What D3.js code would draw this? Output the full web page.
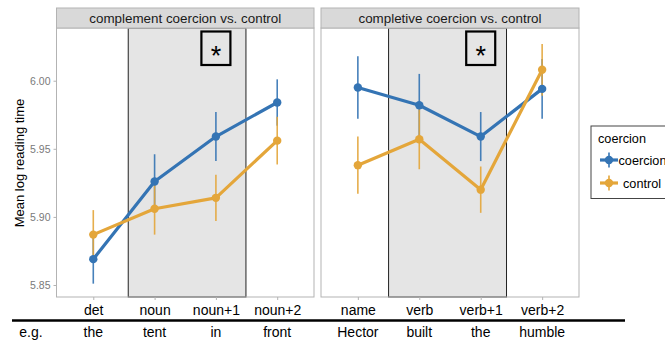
<!DOCTYPE html>
<html>
<head>
<meta charset="utf-8">
<script src="https://cdn.jsdelivr.net/npm/d3@7"></script>
<style>
  html, body { margin: 0; padding: 0; background: #fff; }
  svg { display: block; font-family: "Liberation Sans", Arial, Helvetica, sans-serif; }
</style>
</head>
<body>
<svg id="chart" width="665" height="341"></svg>
<script>
// ---- data ----
const panelTitles = ["complement coercion vs. control", "completive coercion vs. control"];
const regionsLeft = ["det", "noun", "noun+1", "noun+2"];
const regionsRight = ["name", "verb", "verb+1", "verb+2"];
const examplesLeft = ["the", "tent", "in", "front"];
const examplesRight = ["Hector", "built", "the", "humble"];
const seriesNames = ["coercion", "control"];
// mean log reading time, per panel
const coercionLeft = [5.869, 5.926, 5.959, 5.984];
const coercionLeftSE = [0.018, 0.020, 0.018, 0.017];
const controlLeft = [5.887, 5.906, 5.914, 5.956];
const controlLeftSE = [0.018, 0.019, 0.017, 0.0175];
const coercionRight = [5.995, 5.982, 5.959, 5.994];
const coercionRightSE = [0.023, 0.023, 0.018, 0.022];
const controlRight = [5.938, 5.957, 5.920, 6.008];
const controlRightSE = [0.021, 0.022, 0.017, 0.019];
const yTicks = [5.85, 5.90, 5.95, 6.00];
const shadeLeft = [0.57, 2.49];   // critical region span (category index units)
const shadeRight = [0.50, 2.42];
const starLabel = "*";
const exampleLabel = "e.g.";
const yTitle = "Mean log reading time";
const legendTitle = "coercion";

const colors = { coercion: "#3474b4", control: "#e4a63a" };

const svg = d3.select("#chart");

const panelTop = 28, panelBottom = 297;
const y = d3.scaleLinear().domain([5.8412, 6.0387]).range([panelBottom, panelTop]);

const panels = [
  { x0: 56.5, x1: 314, title: panelTitles[0], cats: regionsLeft, ex: examplesLeft,
    series: { coercion: [coercionLeft, coercionLeftSE], control: [controlLeft, controlLeftSE] },
    shade: shadeLeft },
  { x0: 321, x1: 579, title: panelTitles[1], cats: regionsRight, ex: examplesRight,
    series: { coercion: [coercionRight, coercionRightSE], control: [controlRight, controlRightSE] },
    shade: shadeRight }
];

panels.forEach((p, pi) => {
  const x = d3.scalePoint().domain(p.cats).range([p.x0, p.x1]).padding(0.6);
  const step = x.step();
  const xi = i => x(p.cats[0]) + i * step;
  const g = svg.append("g");

  g.append("rect").attr("x", p.x0).attr("y", panelTop).attr("width", p.x1 - p.x0).attr("height", panelBottom - panelTop)
    .attr("fill", "#fff");
  g.append("rect").attr("x", xi(p.shade[0])).attr("y", panelTop)
    .attr("width", xi(p.shade[1]) - xi(p.shade[0])).attr("height", panelBottom - panelTop)
    .attr("fill", "#e5e5e5").attr("stroke", "#222").attr("stroke-width", 1);
  const sc = x(p.cats[2]);
  g.append("rect").attr("x", sc - 14.5).attr("y", 31.5).attr("width", 29).attr("height", 33.5)
    .attr("fill", "none").attr("stroke", "#000").attr("stroke-width", 2.2);
  g.append("text").attr("x", sc).attr("y", 65).attr("text-anchor", "middle")
    .attr("font-size", 27).attr("fill", "#000").text(starLabel);

  g.append("rect").attr("x", p.x0).attr("y", panelTop).attr("width", p.x1 - p.x0).attr("height", panelBottom - panelTop)
    .attr("fill", "none").attr("stroke", "#b3b3b3").attr("stroke-width", 1);

  g.append("rect").attr("x", p.x0).attr("y", 8).attr("width", p.x1 - p.x0).attr("height", 20)
    .attr("fill", "#d9d9d9").attr("stroke", "#b3b3b3").attr("stroke-width", 1);
  g.append("text").attr("x", (p.x0 + p.x1) / 2).attr("y", 22.5).attr("text-anchor", "middle")
    .attr("font-size", 13.4).attr("fill", "#1a1a1a").text(p.title);

  const xAxis = d3.axisBottom(x).tickSize(3).tickPadding(4);
  const ax = g.append("g").attr("transform", `translate(0,${panelBottom})`).call(xAxis);
  ax.select(".domain").remove();
  ax.selectAll(".tick line").attr("stroke", "#b3b3b3");
  ax.selectAll(".tick text").attr("font-size", 14).attr("fill", "#000")
    .attr("font-family", "'Liberation Sans', Arial, sans-serif").attr("dy", null).attr("y", 18);

  g.selectAll("text.ex").data(p.ex).enter().append("text").attr("class", "ex")
    .attr("x", (d, i) => x(p.cats[i])).attr("y", 337).attr("text-anchor", "middle")
    .attr("font-size", 14).attr("fill", "#000").text(d => d);

  const layers = seriesNames.map(s => ({ name: s, vals: p.series[s][0], se: p.series[s][1] }));
  layers.forEach(L => {
    g.selectAll(null).data(L.vals).enter().append("line")
      .attr("x1", (d, i) => x(p.cats[i])).attr("x2", (d, i) => x(p.cats[i]))
      .attr("y1", (d, i) => y(d - L.se[i])).attr("y2", (d, i) => y(d + L.se[i]))
      .attr("stroke", colors[L.name]).attr("stroke-width", 1.6).attr("opacity", 0.9);
  });
  layers.forEach(L => {
    const line = d3.line().x((d, i) => x(p.cats[i])).y(d => y(d));
    g.append("path").datum(L.vals).attr("d", line).attr("fill", "none")
      .attr("stroke", colors[L.name]).attr("stroke-width", 3.2).attr("stroke-linejoin", "round");
  });
  layers.forEach(L => {
    g.selectAll(null).data(L.vals).enter().append("circle")
      .attr("cx", (d, i) => x(p.cats[i])).attr("cy", d => y(d)).attr("r", 4.2)
      .attr("fill", colors[L.name]);
  });

  if (pi === 0) {
    const yAxis = d3.axisLeft(y).tickValues(yTicks).tickFormat(d3.format(".2f")).tickSize(3).tickPadding(3);
    const ay = g.append("g").attr("transform", `translate(${p.x0},0)`).call(yAxis);
    ay.select(".domain").remove();
    ay.selectAll(".tick line").attr("stroke", "#b3b3b3");
    ay.selectAll(".tick text").attr("font-size", 10.5).attr("fill", "#7a7a7a")
      .attr("font-family", "'Liberation Sans', Arial, sans-serif");
  }
});

svg.append("text").attr("transform", "translate(24,163) rotate(-90)").attr("text-anchor", "middle")
  .attr("font-size", 13).attr("fill", "#000").text(yTitle);

svg.append("line").attr("x1", 12).attr("x2", 625).attr("y1", 320.5).attr("y2", 320.5)
  .attr("stroke", "#000").attr("stroke-width", 2.5);
svg.append("text").attr("x", 31).attr("y", 337).attr("text-anchor", "middle")
  .attr("font-size", 14).attr("fill", "#000").text(exampleLabel);

const lg = svg.append("g");
lg.append("rect").attr("x", 591).attr("y", 126).attr("width", 100).attr("height", 72.5)
  .attr("fill", "#fff").attr("stroke", "#444").attr("stroke-width", 1);
lg.append("text").attr("x", 598).attr("y", 143).attr("font-size", 12.7).attr("fill", "#000").text(legendTitle);
seriesNames.forEach((s, i) => {
  const cy = 160 + i * 23, cx = 609;
  lg.append("line").attr("x1", cx).attr("x2", cx).attr("y1", cy - 7.5).attr("y2", cy + 7.5)
    .attr("stroke", colors[s]).attr("stroke-width", 1.6);
  lg.append("line").attr("x1", cx - 9).attr("x2", cx + 9).attr("y1", cy).attr("y2", cy)
    .attr("stroke", colors[s]).attr("stroke-width", 3.2);
  lg.append("circle").attr("cx", cx).attr("cy", cy).attr("r", 4.2).attr("fill", colors[s]);
  lg.append("text").attr("x", i === 0 ? 618.5 : 623).attr("y", cy + 4.5).attr("font-size", 12.7)
    .attr("fill", "#000").text(s);
});
</script>
</body>
</html>
